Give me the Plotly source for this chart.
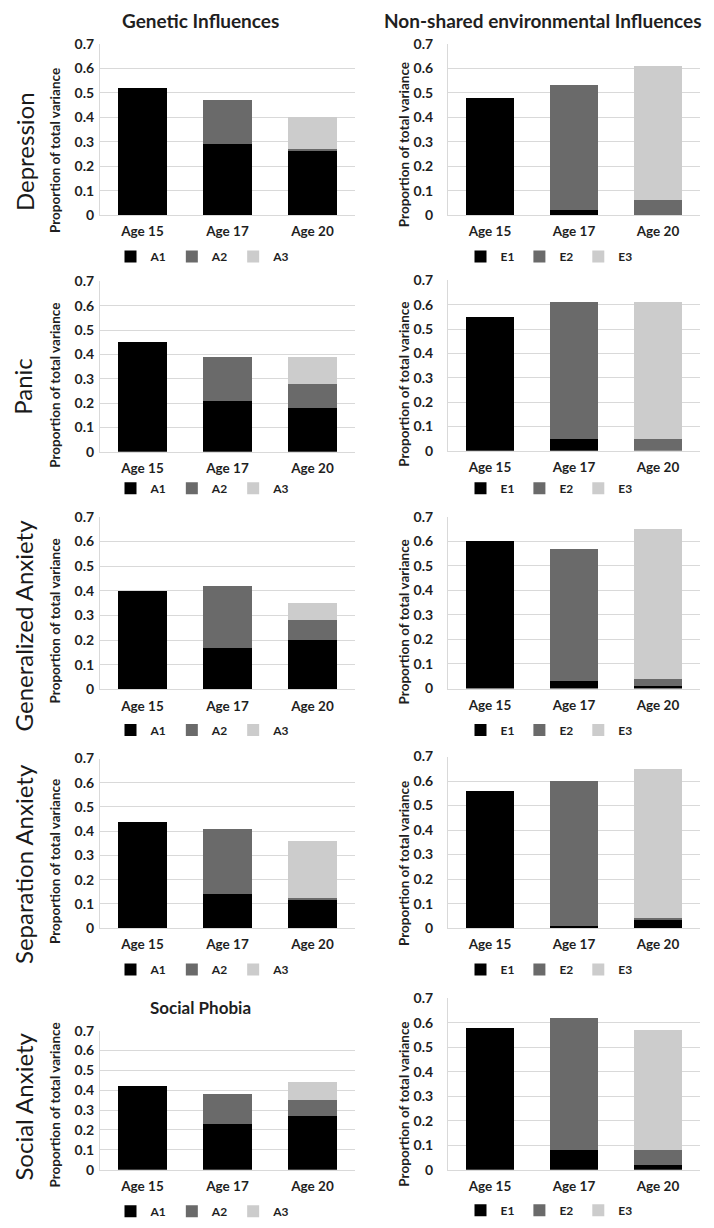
import plotly.graph_objects as go

# ---------------- data ----------------
categories = ["Age 15", "Age 17", "Age 20"]
row_labels = ["Depression", "Panic", "Generalized Anxiety", "Separation Anxiety", "Social Anxiety"]
gen_names = ["A1", "A2", "A3"]
env_names = ["E1", "E2", "E3"]

# Genetic influences (stacked A1, A2, A3)
dep_A1 = [0.52, 0.29, 0.26]
dep_A2 = [0.0, 0.18, 0.01]
dep_A3 = [0.0, 0.0, 0.13]
pan_A1 = [0.45, 0.21, 0.18]
pan_A2 = [0.0, 0.18, 0.10]
pan_A3 = [0.0, 0.0, 0.11]
gad_A1 = [0.40, 0.17, 0.20]
gad_A2 = [0.0, 0.25, 0.08]
gad_A3 = [0.0, 0.0, 0.07]
sep_A1 = [0.44, 0.14, 0.12]
sep_A2 = [0.0, 0.27, 0.005]
sep_A3 = [0.0, 0.0, 0.235]
soc_A1 = [0.42, 0.23, 0.27]
soc_A2 = [0.0, 0.15, 0.08]
soc_A3 = [0.0, 0.0, 0.09]

# Non-shared environmental influences (stacked E1, E2, E3)
dep_E1 = [0.48, 0.02, 0.0]
dep_E2 = [0.0, 0.51, 0.06]
dep_E3 = [0.0, 0.0, 0.55]
pan_E1 = [0.55, 0.05, 0.0]
pan_E2 = [0.0, 0.56, 0.05]
pan_E3 = [0.0, 0.0, 0.56]
gad_E1 = [0.60, 0.03, 0.01]
gad_E2 = [0.0, 0.54, 0.03]
gad_E3 = [0.0, 0.0, 0.61]
sep_E1 = [0.56, 0.01, 0.035]
sep_E2 = [0.0, 0.59, 0.005]
sep_E3 = [0.0, 0.0, 0.61]
soc_E1 = [0.58, 0.08, 0.02]
soc_E2 = [0.0, 0.54, 0.06]
soc_E3 = [0.0, 0.0, 0.49]

y_ticks = [0, 0.1, 0.2, 0.3, 0.4, 0.5, 0.6, 0.7]
y_ticktext = ["0", "0.1", "0.2", "0.3", "0.4", "0.5", "0.6", "0.7"]

genetic = [
    [dep_A1, dep_A2, dep_A3],
    [pan_A1, pan_A2, pan_A3],
    [gad_A1, gad_A2, gad_A3],
    [sep_A1, sep_A2, sep_A3],
    [soc_A1, soc_A2, soc_A3],
]
environ = [
    [dep_E1, dep_E2, dep_E3],
    [pan_E1, pan_E2, pan_E3],
    [gad_E1, gad_E2, gad_E3],
    [sep_E1, sep_E2, sep_E3],
    [soc_E1, soc_E2, soc_E3],
]

# ---------------- styling / layout ----------------
OFF = 8               # default page body margin
W, H = 706, 1220      # figure size so that it fills the 714x1228 window
FONT = "Lato"
colors = ["#000000", "#6a6a6a", "#cccccc"]
grid = "#d9d9d9"
txt = "#1f1f1f"


def fx(p):
    return (p - OFF) / W


def fy(p):
    return 1 - (p - OFF) / H


# window-pixel boxes
left_x = (100, 355)
right_x = (448, 700)
left_y = [(35, 209), (276, 449), (515, 690), (760, 932), (1036, 1177)]
right_y = [(35, 209), (275, 448), (515, 689), (758, 932), (1003, 1177)]
legend_y = [(251, 251), (486, 486), (731, 731), (974, 974), (1219, 1218)]
legend_x = (203, 549)
ytitle_x = (55, 404)
ytitle_y = [(144, 138), (382, 381), (621, 622), (865, 867), (1112, 1111)]
row_label_x = [24, 23, 23, 23, 24]
row_label_y = [145, 383, 625, 867, 1113]

fig = go.Figure()
layout = dict(
    width=W, height=H,
    margin=dict(l=0, r=0, t=0, b=0),
    paper_bgcolor="white", plot_bgcolor="white",
    barmode="stack", bargap=0.43,
    font=dict(family=FONT, color=txt),
    annotations=[],
)

panel = 0
for r in range(5):
    for c in range(2):
        panel += 1
        sfx = "" if panel == 1 else str(panel)
        series = genetic[r] if c == 0 else environ[r]
        names = gen_names if c == 0 else env_names
        leg = "legend" if panel == 1 else "legend" + str(panel)
        for k in range(3):
            fig.add_trace(go.Bar(
                x=categories, y=series[k], name=names[k],
                marker=dict(color=colors[k], line=dict(width=0)),
                xaxis="x" + sfx, yaxis="y" + sfx, legend=leg,
                showlegend=True,
            ))
        xs = left_x if c == 0 else right_x
        ys = left_y[r] if c == 0 else right_y[r]
        layout["xaxis" + sfx] = dict(
            domain=[fx(xs[0]), fx(xs[1])], anchor="y" + sfx,
            showgrid=False, showline=True, linecolor=grid, linewidth=1,
            ticks="", ticklabelstandoff=4,
            tickfont=dict(family=FONT, size=13.5, weight="bold", color=txt),
            fixedrange=True,
        )
        layout["yaxis" + sfx] = dict(
            domain=[fy(ys[1]), fy(ys[0])], anchor="x" + sfx,
            range=[0, 0.7], tickvals=y_ticks, ticktext=y_ticktext,
            showgrid=True, gridcolor=grid, gridwidth=1,
            showline=True, linecolor=grid, linewidth=1, zeroline=False,
            ticks="", ticklabelstandoff=(2 if c == 0 else 11),
            tickfont=dict(family=FONT, size=14, weight="bold", color=txt),
            fixedrange=True,
        )
        ly = legend_y[r][c]
        layout[leg] = dict(
            orientation="h", x=fx(legend_x[c]), y=fy(ly),
            xanchor="center", yanchor="middle",
            font=dict(family=FONT, size=12, weight="bold", color=txt),
            itemwidth=30, traceorder="normal", bgcolor="rgba(0,0,0,0)",
            tracegroupgap=0,
        )
        # y-axis title
        layout["annotations"].append(dict(
            text="Proportion of total variance", textangle=-90,
            x=fx(ytitle_x[c]), y=fy(ytitle_y[r][c]), xref="paper", yref="paper",
            showarrow=False, xanchor="center", yanchor="middle",
            font=dict(family=FONT, size=13.5, weight="bold", color=txt),
        ))

# row labels
for r, lab in enumerate(row_labels):
    layout["annotations"].append(dict(
        text=lab, textangle=-90, x=fx(row_label_x[r]), y=fy(row_label_y[r]),
        xref="paper", yref="paper", showarrow=False,
        xanchor="center", yanchor="middle",
        font=dict(family=FONT, size=24, color="#1a1a1a"),
    ))

# column titles
layout["annotations"].append(dict(
    text="Genetic Influences", x=fx(200), y=fy(12), xref="paper", yref="paper",
    showarrow=False, xanchor="center", yanchor="middle",
    font=dict(family=FONT, size=19, weight="bold", color=txt),
))
layout["annotations"].append(dict(
    text="Non-shared environmental Influences", x=fx(543), y=fy(12),
    xref="paper", yref="paper", showarrow=False, xanchor="center", yanchor="middle",
    font=dict(family=FONT, size=19, weight="bold", color=txt),
))
layout["annotations"].append(dict(
    text="Social Phobia", x=fx(200), y=fy(1012), xref="paper", yref="paper",
    showarrow=False, xanchor="center", yanchor="middle",
    font=dict(family=FONT, size=17, weight="bold", color=txt),
))

fig.update_layout(**layout)
fig.write_html("out.html")
